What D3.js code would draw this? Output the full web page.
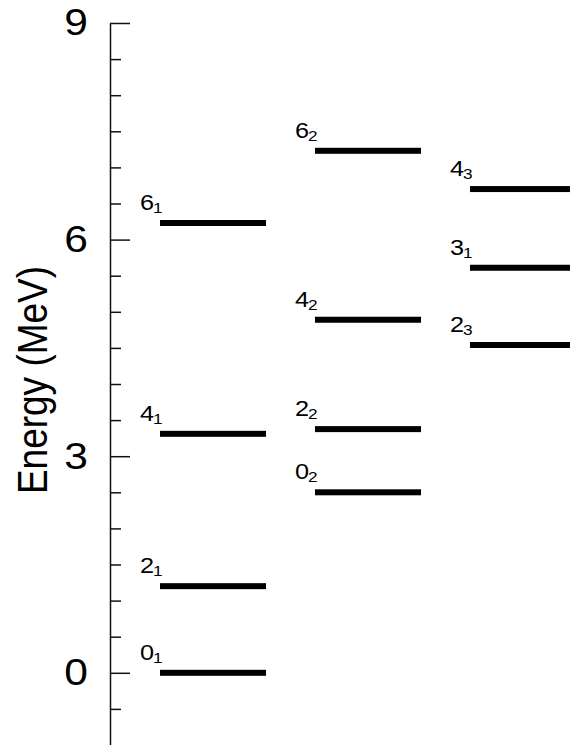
<!DOCTYPE html>
<html>
<head>
<meta charset="utf-8">
<script src="https://cdn.jsdelivr.net/npm/d3@7"></script>
<style>
    body { margin: 0; background: #fff; }
    svg { display: block; font-family: "Liberation Sans", Arial, sans-serif; }
</style>
</head>
<body>
<div id="levels"></div>
<script>
// level scheme: spin, subscript index, column, energy (MeV)
const levelSpins   = ["0", "2", "4", "6", "0", "2", "4", "6", "2", "3", "4"];
const levelIndex   = ["1", "1", "1", "1", "2", "2", "2", "2", "3", "1", "3"];
const levelColumn  = ["a", "a", "a", "a", "b", "b", "b", "b", "c", "c", "c"];
const levelEnergy  = [0, 1.2, 3.31, 6.23, 2.50, 3.375, 4.89, 7.23, 4.54, 5.61, 6.70];

const columns = ["a", "b", "c"];
const majorTicks = [0, 3, 6, 9];
const minorTicks = [-0.5, 0.5, 1, 1.5, 2, 2.5, 3.5, 4, 4.5, 5, 5.5, 6.5, 7, 7.5, 8, 8.5];
const yLabel = "Energy (MeV)";

let chart = {
    width: 570,
    height: 745,
    axisX: 110,
    stretch: 1.15
}

var svg = d3.select("#levels")
    .append("svg")
    .attr("width", chart.width)
    .attr("height", chart.height);

var yscale = d3.scaleLinear().domain([-1, 9]).range([745, 23]);
var xscale = d3.scaleBand().domain(columns).range([160, 576]).paddingInner(0.316);

var levels = levelEnergy.map((e, i) => ({
    energy: e,
    spin: levelSpins[i],
    idx: levelIndex[i],
    col: levelColumn[i]
}));

// minor ticks
svg.append("g")
    .attr("transform", "translate(" + chart.axisX + ",0)")
    .call(d3.axisLeft(yscale)
        .tickValues(minorTicks)
        .tickSize(-11)
        .tickSizeOuter(0)
        .tickFormat(""))
    .call(g => g.select(".domain").remove())
    .selectAll("line")
    .attr("stroke", "#111")
    .attr("stroke-width", 1.5);

// major ticks + axis line
var yaxis = svg.append("g")
    .attr("transform", "translate(" + chart.axisX + ",0)")
    .call(d3.axisLeft(yscale)
        .tickValues(majorTicks)
        .tickSize(-20)
        .tickSizeOuter(0)
        .tickPadding(22)
        .tickFormat(d3.format("d")));

yaxis.select(".domain").attr("stroke", "#111").attr("stroke-width", 1.5);
yaxis.selectAll("line").attr("stroke", "#111").attr("stroke-width", 1.5);
yaxis.selectAll("text")
    .attr("x", 0)
    .attr("transform", "translate(-22,0) scale(" + chart.stretch + ",1)")
    .style("font-size", "37px")
    .attr("fill", "#000");

// axis title
svg.append("text")
    .attr("transform", "translate(47,380) scale(" + chart.stretch + ",1) rotate(-90)")
    .attr("text-anchor", "middle")
    .style("font-size", "37px")
    .attr("fill", "#000")
    .text(yLabel);

// level bars
svg.append("g")
    .selectAll("rect")
    .data(levels)
    .enter()
    .append("rect")
    .attr("x", d => xscale(d.col))
    .attr("y", d => yscale(d.energy) - 3)
    .attr("width", xscale.bandwidth())
    .attr("height", 6)
    .attr("fill", "#000");

// level labels
var labels = svg.append("g")
    .selectAll("text")
    .data(levels)
    .enter()
    .append("text")
    .attr("transform", d => "translate(" + (xscale(d.col) - 20) + "," + (yscale(d.energy) - 13) + ") scale(" + chart.stretch + ",1)")
    .style("font-size", "22px")
    .attr("fill", "#000");

labels.append("tspan").text(d => d.spin);
labels.append("tspan")
    .attr("dx", -1)
    .attr("dy", 3)
    .style("font-size", "15px")
    .text(d => d.idx);
</script>
</body>
</html>
